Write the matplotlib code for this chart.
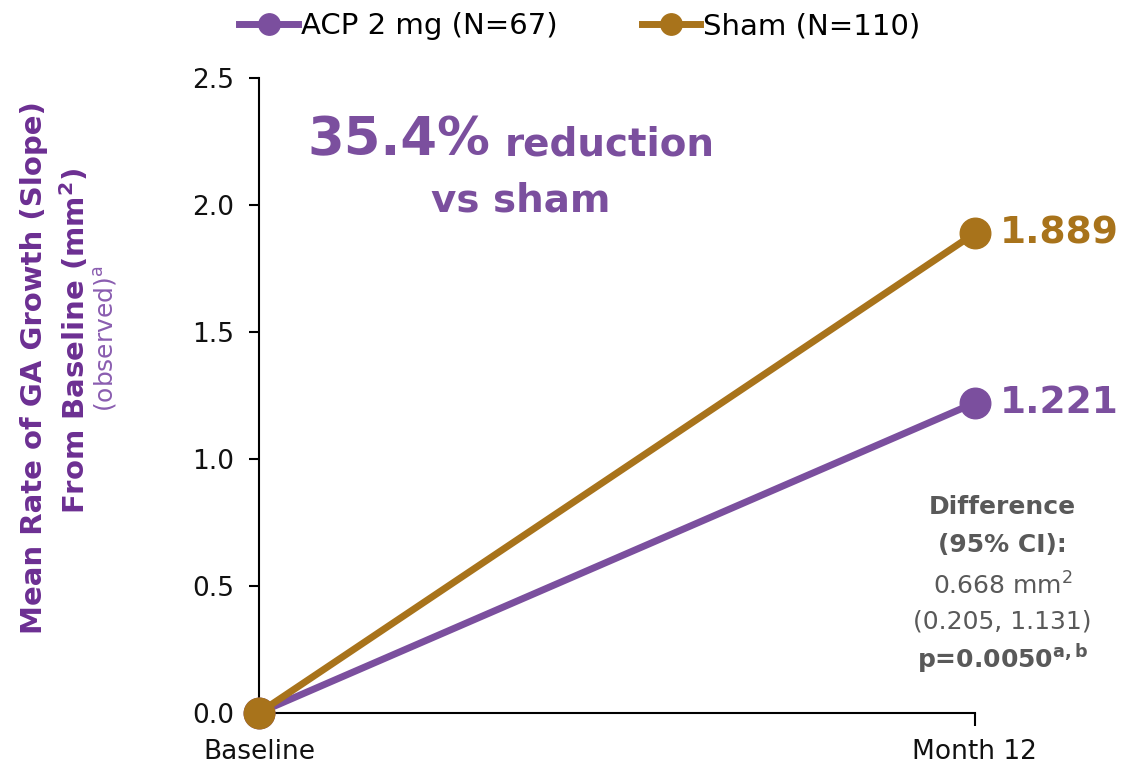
import matplotlib.pyplot as plt

# data
timepoints = ['Baseline', 'Month 12']
acp = [0.0, 1.221]
sham = [0.0, 1.889]
acp_label = 'ACP 2 mg (N=67)'
sham_label = 'Sham (N=110)'
purple = '#7B4F9E'
gold = '#A8731B'

plt.rcParams['font.family'] = ['DejaVu Sans']

fig = plt.figure(figsize=(11.22, 7.74), dpi=100)
ax = fig.add_axes([0.2308, 0.079, 0.638, 0.820])
x = [0, 1]
ax.plot(x, acp, color=purple, lw=5, marker='o', ms=22, clip_on=False,
        zorder=3, label=acp_label)
ax.plot(x, sham, color=gold, lw=5, marker='o', ms=22, clip_on=False,
        zorder=4, label=sham_label)

ax.set_xlim(0, 1)
ax.set_ylim(0, 2.5)
ax.set_yticks([0, 0.5, 1.0, 1.5, 2.0, 2.5])
ax.set_yticklabels(['0.0', '0.5', '1.0', '1.5', '2.0', '2.5'])
ax.set_xticks(x)
ax.set_xticklabels(timepoints)
ax.tick_params(axis='y', length=7, width=1.5, labelsize=19, pad=11,
               direction='out', labelcolor='#111111')
ax.tick_params(axis='x', length=9, width=1.5, labelsize=19, pad=10,
               direction='out', labelcolor='#111111')
for s in ['top', 'right']:
    ax.spines[s].set_visible(False)
for s in ['left', 'bottom']:
    ax.spines[s].set_linewidth(1.5)

# value labels
ax.text(1.035, sham[1], f'{sham[1]:.3f}', color=gold, fontsize=27,
        fontweight='bold', va='center', ha='left')
ax.text(1.035, acp[1], f'{acp[1]:.3f}', color=purple, fontsize=27,
        fontweight='bold', va='center', ha='left')

# annotation
ax.text(0.323, 2.197, '35.4%', color=purple, fontsize=38, fontweight='bold',
        va='baseline', ha='right')
ax.text(0.344, 2.197, 'reduction', color=purple, fontsize=28,
        fontweight='bold', va='baseline', ha='left')
ax.text(0.366, 2.02, 'vs sham', color=purple, fontsize=28,
        fontweight='bold', va='center', ha='center')

grey = '#595959'
cx = 1.039
ax.text(cx, 0.81, 'Difference', color=grey, fontsize=18, fontweight='bold',
        ha='center', va='center')
ax.text(cx, 0.66, '(95% CI):', color=grey, fontsize=18, fontweight='bold',
        ha='center', va='center')
ax.text(cx, 0.50, r'0.668 mm$^{\mathregular{2}}$', color=grey, fontsize=18,
        ha='center', va='center')
ax.text(cx, 0.36, '(0.205, 1.131)', color=grey, fontsize=18,
        ha='center', va='center')
ax.text(cx, 0.21, r'p=0.0050$^{\mathbf{a,b}}$', color=grey, fontsize=18,
        fontweight='bold', ha='center', va='center')

# y label
fig.text(0.030, 0.525, 'Mean Rate of GA Growth (Slope)', color='#6C2F92',
         fontsize=21, fontweight='bold', rotation=90, ha='center', va='center')
fig.text(0.066, 0.56, r'From Baseline (mm$^{\mathbf{2}}$)', color='#6C2F92',
         fontsize=21, fontweight='bold', rotation=90, ha='center', va='center')
fig.text(0.094, 0.563, r'(observed)$^{\mathregular{a}}$', color='#8A5DB0',
         fontsize=18, rotation=90, ha='center', va='center')

fig.legend(loc='upper left', bbox_to_anchor=(0.190, 1.018), ncol=2, frameon=False,
           fontsize=21, handlelength=2.0, handletextpad=0.1, columnspacing=2.9,
           markerscale=0.7)

fig.savefig('out.png', dpi=100)
